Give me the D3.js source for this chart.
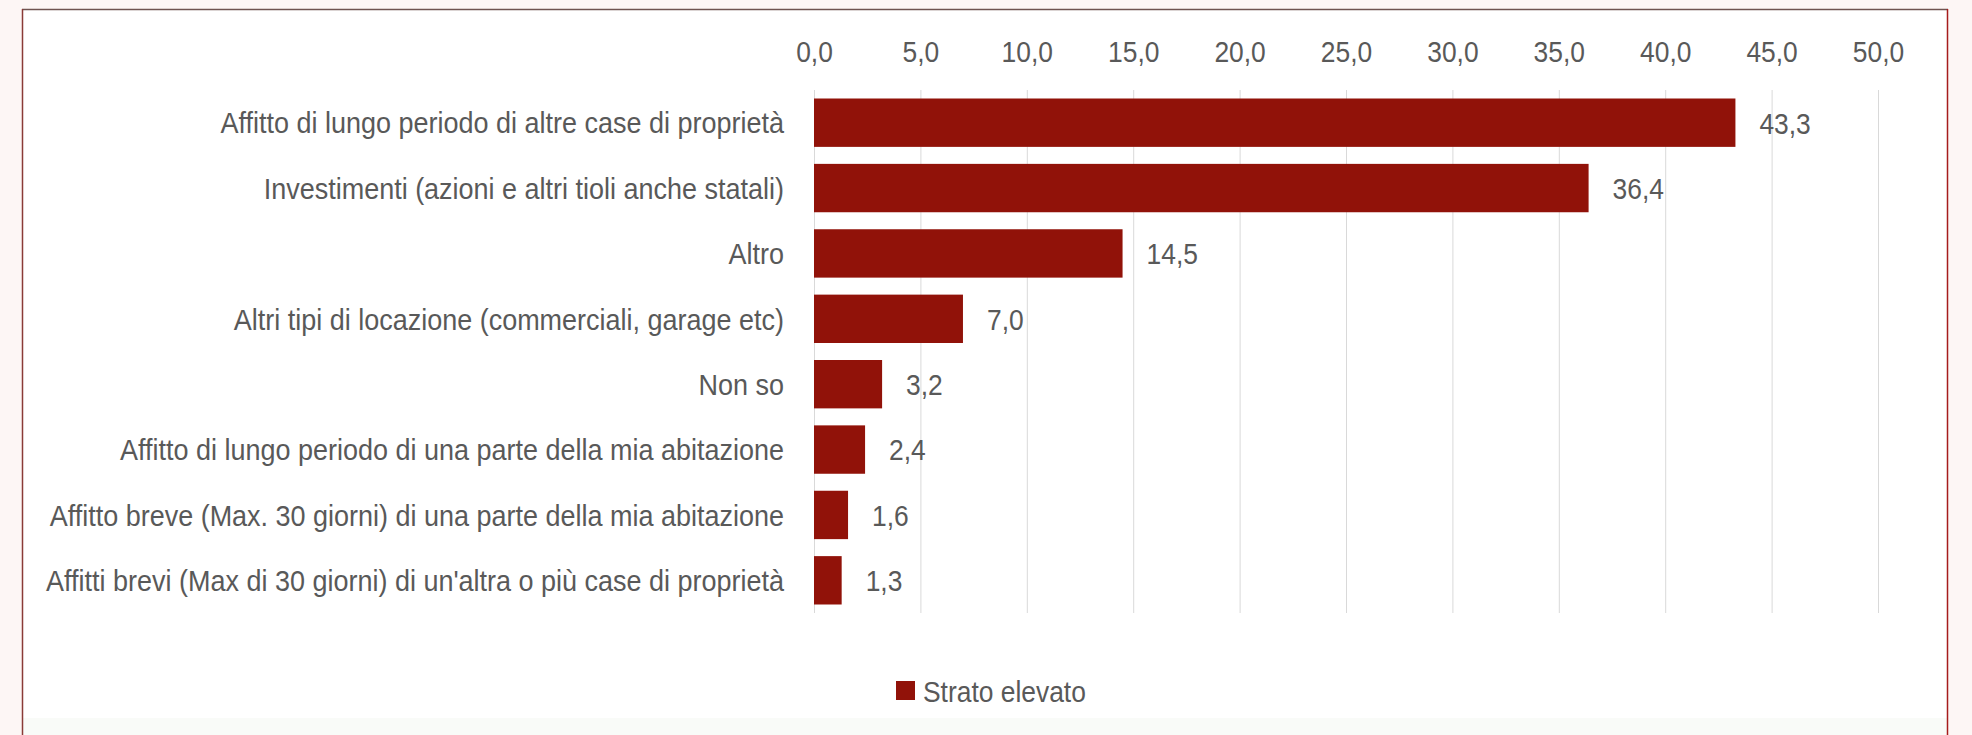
<!DOCTYPE html>
<html>
<head>
<meta charset="utf-8">
<script src="https://cdn.jsdelivr.net/npm/d3@7"></script>
<style>
  html, body { margin: 0; padding: 0; background: #fdf6f5; }
  svg { display: block; }
  text { font-family: "Liberation Sans", Arial, sans-serif; fill: #595959; }
</style>
</head>
<body>
<div id="chart"></div>
<script>
// dati
const categorie = [
  "Affitto di lungo periodo di altre case di proprietà",
  "Investimenti (azioni e altri tioli anche statali)",
  "Altro",
  "Altri tipi di locazione (commerciali, garage etc)",
  "Non so",
  "Affitto di lungo periodo di una parte della mia abitazione",
  "Affitto breve (Max. 30 giorni) di una parte della mia abitazione",
  "Affitti brevi (Max di 30 giorni) di un'altra o più case di proprietà"
];
const valori = [43.3, 36.4, 14.5, 7.0, 3.2, 2.4, 1.6, 1.3];
const ticks = [0, 5, 10, 15, 20, 25, 30, 35, 40, 45, 50];
const serie = "Strato elevato";

const width = 1972;
const height = 735;
const squeeze = 0.88; // testo stretto come nell'originale
const squeezeCat = 0.9;
const barColor = "#911209";

const itLocale = d3.formatLocale({ decimal: ",", thousands: ".", grouping: [3], currency: ["€", ""] });
const fmt = itLocale.format(".1f");

const svg = d3.select("#chart")
  .append("svg")
  .attr("width", width)
  .attr("height", height);

// cornice
svg.append("rect")
  .attr("x", 22).attr("y", 9)
  .attr("width", 1926).attr("height", height - 9)
  .attr("fill", "#ffffff");
svg.append("rect")
  .attr("x", 23).attr("y", 718)
  .attr("width", 1924).attr("height", height - 718)
  .attr("fill", "#f9fbf8");
svg.append("line")
  .attr("x1", 22).attr("x2", 1948).attr("y1", 9.5).attr("y2", 9.5)
  .attr("stroke", "#6f5350").attr("stroke-width", 1.5);
svg.append("line")
  .attr("x1", 22.5).attr("x2", 22.5).attr("y1", 9).attr("y2", height)
  .attr("stroke", "#8a3b37").attr("stroke-width", 1.5);
svg.append("line")
  .attr("x1", 1947.5).attr("x2", 1947.5).attr("y1", 9).attr("y2", height)
  .attr("stroke", "#a61c1c").attr("stroke-width", 1.5);

// scale
const x = d3.scaleLinear().domain([0, 50]).range([814, 1878]);
const y = d3.scaleBand()
  .domain(categorie)
  .range([90, 613])
  .paddingInner(0.26)
  .paddingOuter(0.13);

// griglia
const grid = svg.append("g")
  .attr("transform", "translate(0,90)")
  .call(d3.axisBottom(x).tickValues(ticks).tickSize(523).tickFormat(""));
grid.select(".domain").remove();
grid.selectAll("line").attr("stroke", "#d9d9d9").attr("stroke-width", 1);

// asse superiore
const xAxis = svg.append("g")
  .attr("transform", "translate(0,62)")
  .call(d3.axisTop(x).tickValues(ticks).tickSize(0).tickPadding(0).tickFormat(fmt));
xAxis.select(".domain").remove();
xAxis.selectAll("text")
  .attr("y", 0)
  .attr("dy", 0)
  .attr("font-size", 30)
  .attr("transform", `scale(${squeeze},1)`);

// etichette categorie
const yAxis = svg.append("g")
  .attr("transform", "translate(784,0)")
  .call(d3.axisLeft(y).tickSize(0).tickPadding(0));
yAxis.select(".domain").remove();
yAxis.selectAll("text")
  .attr("x", 0)
  .attr("dy", "0.36em")
  .attr("font-size", 30)
  .attr("transform", `scale(${squeezeCat},1)`);

// barre
svg.selectAll(".bar")
  .data(valori)
  .join("rect")
  .attr("class", "bar")
  .attr("x", x(0))
  .attr("y", (d, i) => y(categorie[i]))
  .attr("width", (d) => x(d) - x(0))
  .attr("height", y.bandwidth())
  .attr("fill", barColor);

// valori
svg.selectAll(".val")
  .data(valori)
  .join("text")
  .attr("class", "val")
  .attr("font-size", 30)
  .attr("dy", "0.36em")
  .attr("transform", (d, i) =>
    `translate(${x(d) + 24},${y(categorie[i]) + y.bandwidth() / 2}) scale(${squeeze},1)`)
  .text((d) => fmt(d));

// legenda
const leg = svg.append("g").attr("transform", "translate(896,681)");
leg.append("rect")
  .attr("width", 19).attr("height", 19)
  .attr("fill", barColor);
leg.append("text")
  .attr("font-size", 30)
  .attr("dy", "0.36em")
  .attr("transform", `translate(27,10) scale(${squeeze},1)`)
  .text(serie);
</script>
</body>
</html>
